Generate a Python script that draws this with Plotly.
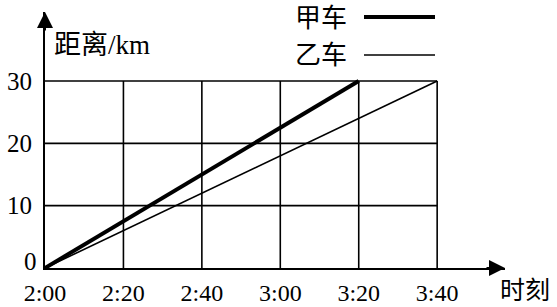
import plotly.graph_objects as go

# Data
time_labels = ["2:00", "2:20", "2:40", "3:00", "3:20", "3:40"]
time_minutes = [0, 20, 40, 60, 80, 100]
dist_ticks = [0, 10, 20, 30]

jia_t = [0, 80]
jia_d = [0, 30]
yi_t = [0, 100]
yi_d = [0, 30]

FONT = "Liberation Serif, Noto Sans CJK SC, serif"

W, H = 557, 307
L, R, T, B = 45, 52, 12, 39
PW, PH = W - L - R, H - T - B

def px(x):
    return (x - L) / PW
def py(y):
    return (H - B - y) / PH

fig = go.Figure()

# grid (only within the data area)
for t in time_minutes[1:]:
    fig.add_shape(type="line", x0=t, x1=t, y0=0, y1=dist_ticks[-1], xref="x", yref="y",
                  line=dict(color="black", width=1.6), layer="below")
for d in dist_ticks[1:]:
    fig.add_shape(type="line", x0=0, x1=time_minutes[-1], y0=d, y1=d, xref="x", yref="y",
                  line=dict(color="black", width=1.6), layer="below")

fig.add_trace(go.Scatter(x=yi_t, y=yi_d, mode="lines", line=dict(color="black", width=1.6),
                         showlegend=False, hoverinfo="skip"))
fig.add_trace(go.Scatter(x=jia_t, y=jia_d, mode="lines", line=dict(color="black", width=4),
                         showlegend=False, hoverinfo="skip"))

XMAX = 117.3
YMAX = 41.07

fig.update_xaxes(range=[0, XMAX], tickvals=time_minutes, ticktext=time_labels, automargin=False,
                 showgrid=False, zeroline=False, showline=True, linecolor="black", linewidth=2,
                 ticks="", tickfont=dict(family=FONT, size=24, color="black"), ticklabelstandoff=2)
# 10/20/30 via the axis; the origin label "0" sits slightly raised (as in the reference)
fig.update_yaxes(range=[0, YMAX], tickvals=dist_ticks[1:], ticktext=[str(v) for v in dist_ticks[1:]],
                 automargin=False,
                 showgrid=False, zeroline=False, showline=True, linecolor="black", linewidth=2,
                 ticks="", tickfont=dict(family=FONT, size=25, color="black"), ticklabelstandoff=6)
fig.add_annotation(x=0, y=dist_ticks[0], xref="x", yref="y", text=str(dist_ticks[0]), showarrow=False,
                   xanchor="right", yanchor="middle", xshift=-6, yshift=7,
                   font=dict(family=FONT, size=25, color="black"))

# arrowheads
fig.add_annotation(x=XMAX, y=0, xref="x", yref="y", ax=-20, ay=0, text="", showarrow=True,
                   arrowhead=2, arrowsize=1.6, arrowwidth=2, arrowcolor="black", standoff=0)
fig.add_annotation(x=0, y=YMAX, xref="x", yref="y", ax=0, ay=20, text="", showarrow=True,
                   arrowhead=2, arrowsize=1.6, arrowwidth=2, arrowcolor="black", standoff=0)

# axis titles
fig.add_annotation(x=px(52), y=py(45), xref="paper", yref="paper", text="距离/km", showarrow=False,
                   xanchor="left", yanchor="middle", font=dict(family=FONT, size=27, color="black"))
fig.add_annotation(x=px(498), y=py(290), xref="paper", yref="paper", text="时刻", showarrow=False,
                   xanchor="left", yanchor="middle", font=dict(family=FONT, size=25, color="black"))

# legend
fig.add_annotation(x=px(293), y=py(18), xref="paper", yref="paper", text="甲车", showarrow=False,
                   xanchor="left", yanchor="middle", font=dict(family=FONT, size=26, color="black"))
fig.add_annotation(x=px(293), y=py(55), xref="paper", yref="paper", text="乙车", showarrow=False,
                   xanchor="left", yanchor="middle", font=dict(family=FONT, size=26, color="black"))

fig.add_shape(type="line", xref="paper", yref="paper", x0=px(364), x1=px(435), y0=py(17), y1=py(17),
              line=dict(color="black", width=4))
fig.add_shape(type="line", xref="paper", yref="paper", x0=px(364), x1=px(435), y0=py(55), y1=py(55),
              line=dict(color="black", width=1.6))

fig.update_layout(width=W, height=H, margin=dict(l=L, r=R, t=T, b=B),
                  plot_bgcolor="white", paper_bgcolor="white", showlegend=False)

fig.write_html("out.html")
